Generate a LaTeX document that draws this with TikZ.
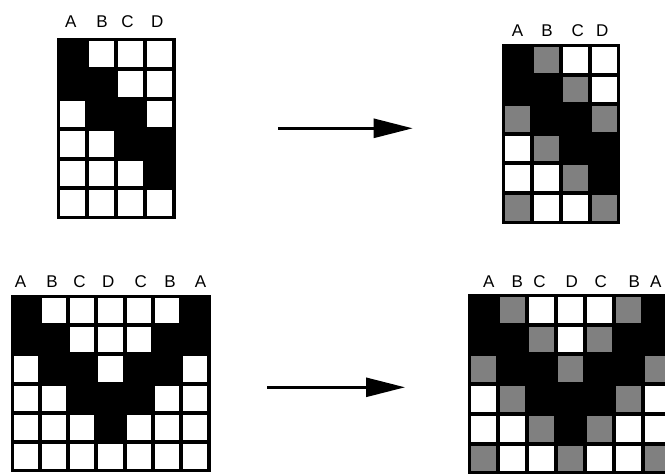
\documentclass[tikz,border=0pt]{standalone}
\usepackage{fontspec}
\setmainfont{Liberation Sans}
\usetikzlibrary{arrows.meta}
\definecolor{cellgray}{RGB}{128,128,128}
\tikzset{
  lbl/.style={font=\fontsize{17}{17}\selectfont, inner sep=0pt, anchor=center},
  arr/.style={line width=2.7pt, -{Triangle[length=39pt,width=19pt]}},
  cellbase/.style={inner sep=0pt, outer sep=0pt, draw=none},
  cell0/.style={cellbase, fill=white},
  cell1/.style={cellbase, fill=black},
  cell2/.style={cellbase, fill=cellgray},
}
% #1 name, #2 x0, #3 y0, #4 w, #5 h, #6 ncols, #7 nrows, #8 rows
\newcommand\mygrid[8]{%
  \fill[black] ({#2-1.2},{#3-1.2}) rectangle ({#2+#6*#4+1.2},{#3+#7*#5+1.2});
  \foreach \row [count=\r] in {#8} {
    \foreach \v [count=\c] in \row {
      \pgfmathsetmacro\cx{#2+(\c-0.5)*#4}
      \pgfmathsetmacro\cy{#3+(\r-0.5)*#5}
      \pgfmathsetmacro\ins{\v==1 ? 0 : 4}
      \node[cell\v, minimum width={#4-\ins}, minimum height={#5-\ins}] (#1-\r-\c) at (\cx,\cy) {};
    }
  }
}
\begin{document}
\begin{tikzpicture}[x=1pt,y=-1pt]
\useasboundingbox (0,0) rectangle (665,474);
\clip (0,0) rectangle (665,474);
% top-left grid
\mygrid{ga}{58.3}{39.3}{29}{29.8}{4}{6}{{1,0,0,0},{1,1,0,0},{0,1,1,0},{0,0,1,1},{0,0,0,1},{0,0,0,0}}
\node[lbl] (ga-A) at (70.8,21.2) {A};
\node[lbl] (ga-B) at (102,21.2) {B};
\node[lbl] (ga-C) at (127.5,21.2) {C};
\node[lbl] (ga-D) at (157.3,21.2) {D};
% top-right grid
\mygrid{gb}{503.3}{45}{28.9}{29.6}{4}{6}{{1,2,0,0},{1,1,2,0},{2,1,1,2},{0,2,1,1},{0,0,2,1},{2,0,0,2}}
\node[lbl] (gb-A) at (517.5,30.8) {A};
\node[lbl] (gb-B) at (547,30.8) {B};
\node[lbl] (gb-C) at (577.8,30.8) {C};
\node[lbl] (gb-D) at (602.2,30.8) {D};
% bottom-left grid
\mygrid{gc}{11.7}{296}{28.23}{29.2}{7}{6}{{1,0,0,0,0,0,1},{1,1,0,0,0,1,1},{0,1,1,0,1,1,0},{0,0,1,1,1,0,0},{0,0,0,1,0,0,0},{0,0,0,0,0,0,0}}
\node[lbl] (gc-A1) at (20.5,282) {A};
\node[lbl] (gc-B1) at (52,282) {B};
\node[lbl] (gc-C1) at (79.5,282) {C};
\node[lbl] (gc-D) at (108.3,282) {D};
\node[lbl] (gc-C2) at (140.8,282) {C};
\node[lbl] (gc-B2) at (170,282) {B};
\node[lbl] (gc-A2) at (200.5,282) {A};
% bottom-right grid
\mygrid{gd}{469.3}{295}{28.9}{29.7}{7}{6}{{1,2,0,0,0,2,1},{1,1,2,0,2,1,1},{2,1,1,2,1,1,2},{0,2,1,1,1,2,0},{0,0,2,1,2,0,0},{2,0,0,2,0,0,2}}
\node[lbl] (gd-A1) at (488.7,281.3) {A};
\node[lbl] (gd-B1) at (517.2,281.3) {B};
\node[lbl] (gd-C1) at (539.5,281.3) {C};
\node[lbl] (gd-D) at (571.7,281.3) {D};
\node[lbl] (gd-C2) at (600.8,281.3) {C};
\node[lbl] (gd-B2) at (634.2,281.3) {B};
\node[lbl] (gd-A2) at (655.8,281.3) {A};
% arrows
\coordinate (a1s) at (278.3,128.3);
\coordinate (a1e) at (412.7,128.3);
\draw[arr] (a1s) -- (a1e);
\coordinate (a2s) at (267.3,387.3);
\coordinate (a2e) at (405,387.3);
\draw[arr] (a2s) -- (a2e);
\end{tikzpicture}
\end{document}
